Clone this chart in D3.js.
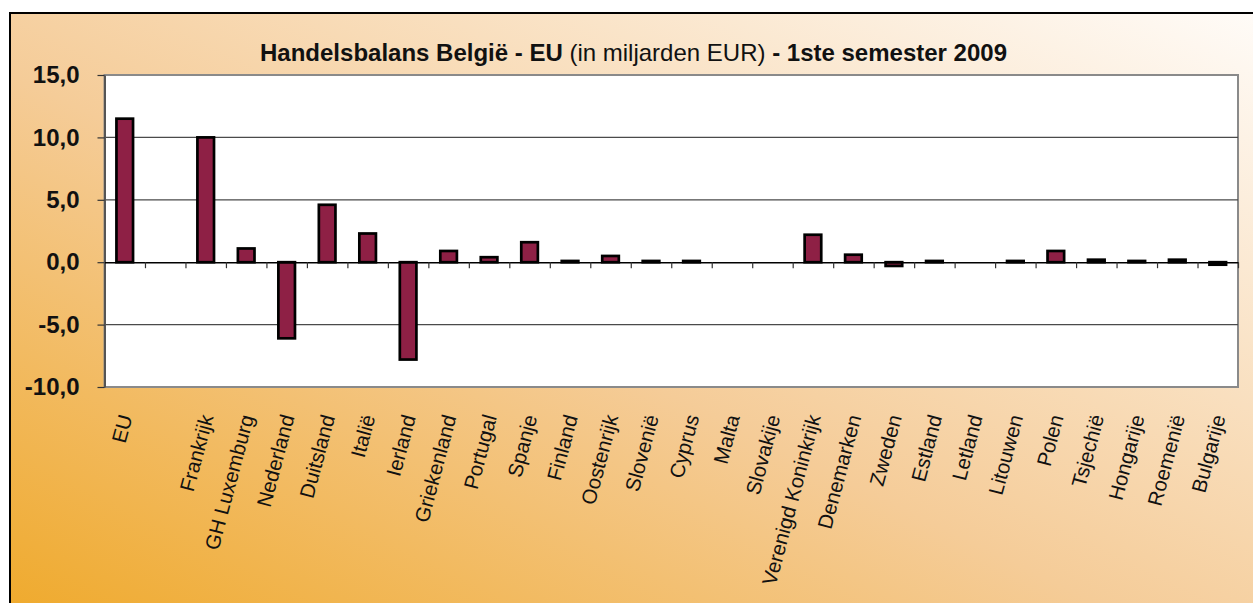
<!DOCTYPE html>
<html>
<head>
<meta charset="utf-8">
<script src="https://cdn.jsdelivr.net/npm/d3@7"></script>
<style>
    body { margin: 0; background: #ffffff; }
    svg { display: block; font-family: "Liberation Sans", Arial, sans-serif; }
</style>
</head>
<body>
<div id="chart"></div>
<script>
// landen (lege plek na EU)
var landen = ["EU", "", "Frankrijk", "GH Luxemburg", "Nederland", "Duitsland", "Italië", "Ierland",
    "Griekenland", "Portugal", "Spanje", "Finland", "Oostenrijk", "Slovenië", "Cyprus", "Malta",
    "Slovakije", "Verenigd Koninkrijk", "Denemarken", "Zweden", "Estland", "Letland", "Litouwen",
    "Polen", "Tsjechië", "Hongarije", "Roemenië", "Bulgarije"];

// handelsbalans in miljard EUR
var saldo = [11.5, null, 10.0, 1.1, -6.1, 4.6, 2.3, -7.8,
    0.9, 0.4, 1.6, 0.1, 0.5, 0.1, 0.1, 0.0,
    0.0, 2.2, 0.6, -0.3, 0.1, 0.0, 0.1,
    0.9, 0.2, 0.1, 0.2, -0.2];

var yTicks = [-10, -5, 0, 5, 10, 15];
var gridWaarden = [-5, 5, 10];

var W = 1253, H = 603;
var plot = { left: 104.5, right: 1238, top: 75, bottom: 387 };

var svg = d3.select("#chart").append("svg")
    .attr("width", W)
    .attr("height", H);

// achtergrond met verloop
var defs = svg.append("defs");
var grad = defs.append("linearGradient")
    .attr("id", "bg")
    .attr("x1", 0).attr("y1", 1)
    .attr("x2", 1).attr("y2", 0);
grad.append("stop").attr("offset", "0%").attr("stop-color", "#efa92a");
grad.append("stop").attr("offset", "45%").attr("stop-color", "#f5cc98");
grad.append("stop").attr("offset", "100%").attr("stop-color", "#fffcf9");

svg.append("rect")
    .attr("x", 10)
    .attr("y", 13)
    .attr("width", W + 10)
    .attr("height", H + 10)
    .attr("fill", "url(#bg)")
    .attr("stroke", "#000")
    .attr("stroke-width", 2);

// schalen
var x = d3.scaleBand()
    .domain(landen)
    .range([plot.left, plot.right])
    .padding(0);
var grens = d3.scaleLinear()
    .domain([0, landen.length])
    .range([plot.left, plot.right]);
var y = d3.scaleLinear()
    .domain([-10, 15])
    .range([plot.bottom, plot.top]);

// plotgebied
svg.append("rect")
    .attr("x", plot.left)
    .attr("y", plot.top)
    .attr("width", plot.right - plot.left)
    .attr("height", plot.bottom - plot.top)
    .attr("fill", "#fff")
    .attr("stroke", "#8a8a8a")
    .attr("stroke-width", 2);

// rasterlijnen
svg.selectAll(".grid")
    .data(gridWaarden)
    .enter().append("line")
    .attr("class", "grid")
    .attr("x1", plot.left)
    .attr("x2", plot.right)
    .attr("y1", function (d) { return y(d); })
    .attr("y2", function (d) { return y(d); })
    .attr("stroke", "#4a4a4a")
    .attr("stroke-width", 1.2);

// y-as
var yAxis = svg.append("g")
    .attr("transform", "translate(" + plot.left + ",0)")
    .call(d3.axisLeft(y)
        .tickValues(yTicks)
        .tickSizeInner(7)
        .tickSizeOuter(0)
        .tickPadding(18)
        .tickFormat(function (d) { return d.toFixed(1).replace(".", ","); }));
yAxis.select(".domain").attr("stroke", "#555").attr("stroke-width", 2);
yAxis.selectAll(".tick line").attr("stroke", "#333").attr("stroke-width", 1.2);
yAxis.selectAll(".tick text")
    .attr("font-size", 24)
    .attr("font-weight", "bold")
    .attr("font-family", "'Liberation Sans', Arial, sans-serif")
    .attr("fill", "#111");

// balken
var data = landen.map(function (d, i) { return { land: d, waarde: saldo[i] }; });
var barBreedte = x.bandwidth() * 0.41;

svg.selectAll(".bar")
    .data(data.filter(function (d) { return d.waarde !== null; }))
    .enter().append("rect")
    .attr("class", "bar")
    .attr("x", function (d) { return x(d.land) + (x.bandwidth() - barBreedte) / 2; })
    .attr("width", barBreedte)
    .attr("y", function (d) { return y(Math.max(0, d.waarde)); })
    .attr("height", function (d) { return Math.abs(y(d.waarde) - y(0)); })
    .attr("fill", "#8e2045")
    .attr("stroke", "#000")
    .attr("stroke-width", 2.7);

// x-as op nul met streepjes tussen de landen
var xAxis = svg.append("g")
    .attr("transform", "translate(0," + y(0) + ")")
    .call(d3.axisBottom(grens)
        .tickValues(d3.range(1, landen.length + 1))
        .tickSizeInner(6)
        .tickSizeOuter(0)
        .tickFormat(""));
xAxis.select(".domain").attr("stroke", "#000").attr("stroke-width", 1.6);
xAxis.selectAll(".tick line").attr("stroke", "#333").attr("stroke-width", 1.2);

// landnamen, schuin
svg.selectAll(".label")
    .data(landen)
    .enter().append("text")
    .attr("class", "label")
    .attr("transform", function (d) {
        return "translate(" + (x(d) + x.bandwidth() / 2 + 1) + ",415) rotate(-75)";
    })
    .attr("text-anchor", "end")
    .attr("dy", "0.35em")
    .attr("font-size", 20.5)
    .attr("fill", "#111")
    .text(function (d) { return d; });

// titel
var titel = svg.append("text")
    .attr("x", 633.5)
    .attr("y", 61)
    .attr("text-anchor", "middle")
    .attr("font-size", 24)
    .attr("fill", "#111");
titel.append("tspan").attr("font-weight", "bold").text("Handelsbalans België - EU ");
titel.append("tspan").text("(in miljarden EUR)");
titel.append("tspan").attr("font-weight", "bold").text(" - 1ste semester 2009");
</script>
</body>
</html>
